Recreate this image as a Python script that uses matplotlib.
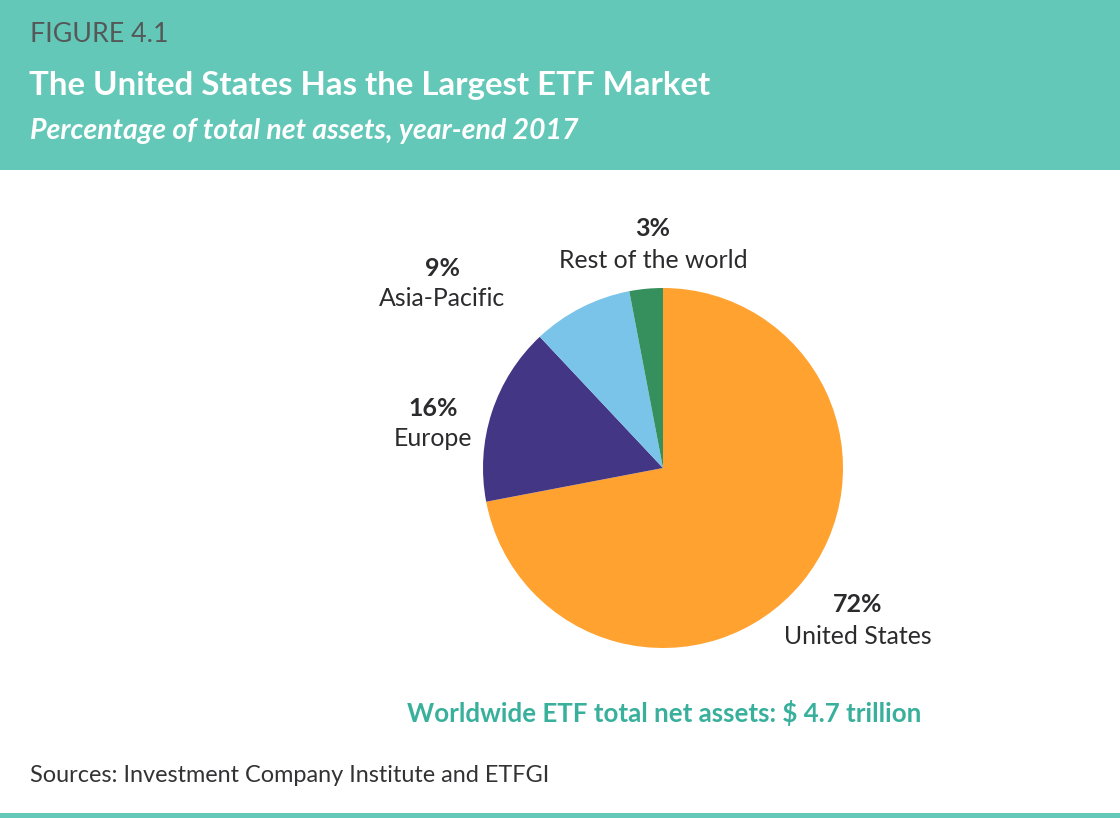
import matplotlib

matplotlib.use("Agg")
import matplotlib.pyplot as plt  # noqa: E402
from matplotlib.patches import Rectangle  # noqa: E402

# data, clockwise from 12 o'clock
regions = ["United States", "Europe", "Asia-Pacific", "Rest of the world"]
shares = [72, 16, 9, 3]
colors = ["#FFA22F", "#433685", "#7AC4E9", "#36905E"]

figure_no = "FIGURE 4.1"
title = "The United States Has the Largest ETF Market"
subtitle = "Percentage of total net assets, year-end 2017"
total_note = "Worldwide ETF total net assets: $ 4.7 trillion"
source = "Sources: Investment Company Institute and ETFGI"

# label anchor (figure pixels, from top-left) for each region
label_px = {
    "United States": (858, 620),
    "Europe": (433, 423),
    "Asia-Pacific": (442, 283),
    "Rest of the world": (653, 244),
}

W, H = 1120, 818
TEAL = "#63C8B7"
TEAL_TXT = "#38B09C"
FONT = "Lato"

fig = plt.figure(figsize=(W / 100, H / 100), dpi=100)
fig.patch.set_facecolor("white")


def fx(px):
    return px / W


def fy(py):
    return 1 - py / H


# header band + bottom rule
fig.add_artist(Rectangle((0, fy(170)), 1, 170 / H, transform=fig.transFigure,
                         color=TEAL, lw=0, zorder=0))
fig.add_artist(Rectangle((0, 0), 1, 5 / H, transform=fig.transFigure,
                         color=TEAL, lw=0, zorder=0))

fig.text(fx(30), fy(35), figure_no, fontsize=19.3, color="#555759",
         family=FONT, va="center", ha="left")
fig.text(fx(29), fy(86), title, fontsize=23.8, color="white", weight="bold",
         family=FONT, va="center", ha="left")
fig.text(fx(30), fy(131), subtitle, fontsize=20.5, color="white", weight="bold",
         style="italic", family=FONT, va="center", ha="left")

# pie
cx, cy, r = 663, 468, 180
ax = fig.add_axes([fx(cx - r), fy(cy + r), 2 * r / W, 2 * r / H])
ax.pie(shares, colors=colors, startangle=90, counterclock=False, radius=1,
       wedgeprops=dict(linewidth=0))
ax.set_xlim(-1, 1)
ax.set_ylim(-1, 1)
ax.set_aspect("auto")
ax.axis("off")

for name, val in zip(regions, shares):
    x, y = label_px[name]
    fig.text(fx(x), fy(y - 15), f"{val}%", fontsize=18, weight="bold",
             color="#2B2B2D", family=FONT, ha="center", va="center")
    fig.text(fx(x), fy(y + 16), name, fontsize=17.9, color="#2B2B2D",
             family=FONT, ha="center", va="center")

fig.text(fx(664), fy(713), total_note, fontsize=18.6, weight="bold",
         color=TEAL_TXT, family=FONT, ha="center", va="center")
fig.text(fx(30), fy(776), source, fontsize=16.9, color="#333335",
         family=FONT, ha="left", va="center")

fig.savefig("out.png", dpi=100)
